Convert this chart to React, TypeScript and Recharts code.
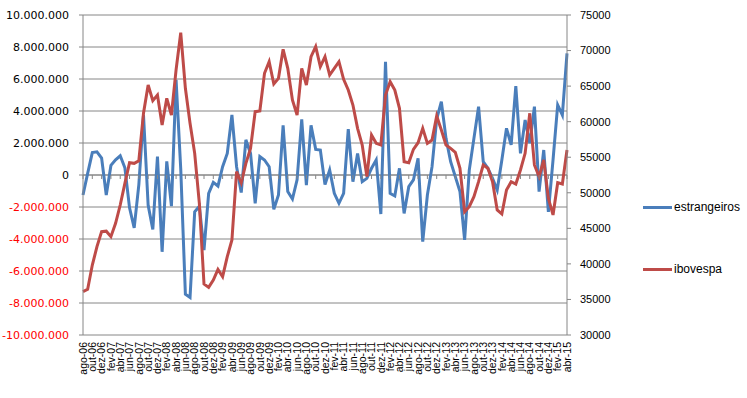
import { CartesianGrid, Line, LineChart, ReferenceLine, XAxis, YAxis } from "recharts";

const months = [
  "ago-06", "set-06", "out-06", "nov-06", "dez-06",
  "jan-07", "fev-07", "mar-07", "abr-07", "mai-07", "jun-07", "jul-07", "ago-07", "set-07", "out-07", "nov-07", "dez-07",
  "jan-08", "fev-08", "mar-08", "abr-08", "mai-08", "jun-08", "jul-08", "ago-08", "set-08", "out-08", "nov-08", "dez-08",
  "jan-09", "fev-09", "mar-09", "abr-09", "mai-09", "jun-09", "jul-09", "ago-09", "set-09", "out-09", "nov-09", "dez-09",
  "jan-10", "fev-10", "mar-10", "abr-10", "mai-10", "jun-10", "jul-10", "ago-10", "set-10", "out-10", "nov-10", "dez-10",
  "jan-11", "fev-11", "mar-11", "abr-11", "mai-11", "jun-11", "jul-11", "ago-11", "set-11", "out-11", "nov-11", "dez-11",
  "jan-12", "fev-12", "mar-12", "abr-12", "mai-12", "jun-12", "jul-12", "ago-12", "set-12", "out-12", "nov-12", "dez-12",
  "jan-13", "fev-13", "mar-13", "abr-13", "mai-13", "jun-13", "jul-13", "ago-13", "set-13", "out-13", "nov-13", "dez-13",
  "jan-14", "fev-14", "mar-14", "abr-14", "mai-14", "jun-14", "jul-14", "ago-14", "set-14", "out-14", "nov-14", "dez-14",
  "jan-15", "fev-15", "mar-15", "abr-15",
];

// fluxo de estrangeiros (eixo esquerdo)
const estrangeiros = [
  -1250000, 100000, 1400000, 1450000, 1060000, -1250000, 600000, 950000, 1200000, 450000,
  -2050000, -3300000, -600000, 3750000, -1900000, -3400000, 1150000, -4800000, 850000, -1950000,
  5950000, 400000, -7450000, -7650000, -2300000, -1950000, -4700000, -1150000, -460000, -690000,
  520000, 1350000, 3750000, 520000, -1100000, 2200000, 1350000, -1770000, 1150000, 940000,
  520000, -2150000, -1250000, 3100000, -1040000, -1500000, -300000, 3480000, -630000, 3100000,
  1600000, 1560000, -600000, 310000, -1150000, -1770000, -1150000, 2870000, -420000, 1350000,
  -420000, -210000, 420000, 940000, -2440000, 7080000, -1150000, -1310000, 420000, -2400000,
  -730000, -310000, 1040000, -4170000, -1250000, 520000, 3500000, 4580000, 2290000, 830000,
  -100000, -1040000, -4060000, 310000, 2290000, 4270000, 830000, 420000, -210000, -940000,
  940000, 2920000, 1880000, 5560000, 1350000, 3440000, 1980000, 4270000, -1040000, 1560000,
  -2300000, 940000, 4380000, 3750000, 7600000,
];

// ibovespa (eixo direito)
const ibovespa = [
  36090, 36420, 39840, 42420, 44530, 44600, 43830, 45700, 48280, 51330,
  54230, 54140, 54510, 61180, 65160, 62950, 63750, 59530, 63280, 60940,
  67270, 72510, 64690, 59770, 55550, 48520, 37170, 36700, 37730, 39230,
  38200, 41010, 43360, 52970, 51420, 54140, 56250, 61410, 61500, 66800,
  68440, 65300, 66090, 70180, 67500, 63050, 60940, 67500, 65160, 69140,
  70550, 67730, 69140, 66560, 67500, 68440, 65960, 64450, 62340, 59060,
  56720, 52270, 58120, 56950, 56720, 63750, 65620, 64450, 61880, 54370,
  54230, 56110, 57040, 59060, 56950, 57420, 60800, 58830, 56720, 56250,
  55690, 53440, 47340, 48050, 49450, 51560, 53900, 53440, 51560, 47580,
  47020, 50390, 51560, 51230, 53200, 55550, 61180, 53910, 52270, 54610,
  49220, 46880, 51420, 51230, 56020,
];

const leftTicks = [-10000000, -8000000, -6000000, -4000000, -2000000, 0, 2000000, 4000000, 6000000, 8000000, 10000000];
const rightTicks = [30000, 35000, 40000, 45000, 50000, 55000, 60000, 65000, 70000, 75000];

const series = [
  { key: "estrangeiros", color: "#4A7EBB" },
  { key: "ibovespa", color: "#BE4B48" },
];

const data = months.map((m, i) => ({ m, estrangeiros: estrangeiros[i], ibovespa: ibovespa[i] }));

const W = 747;
const H = 398;
const TOP = 15;
const PLOT_H = 320;
const ZERO_Y = TOP + PLOT_H / 2;
const AXIS = "#868686";
const FONT = "'Liberation Sans', Arial, sans-serif";
const WIDE = "'DejaVu Sans', Verdana, sans-serif";

const fmt = (v: number) => {
  const s = Math.abs(v).toString().replace(/\B(?=(\d{3})+(?!\d))/g, ".");
  return v < 0 ? "-" + s : s;
};

const LeftTick = (props: any) => {
  const { x, y, payload } = props;
  return (
    <text x={x} y={y} dy="0.35em" textAnchor="end" fontSize={11} fontFamily={WIDE}
      fill={payload.value < 0 ? "#FF0000" : "#000"}>
      {fmt(payload.value)}
    </text>
  );
};

const MonthTick = (props: any) => {
  const { x, y, payload } = props;
  const ty = y + 5;
  return (
    <g>
      <line x1={x} x2={x} y1={ZERO_Y} y2={ZERO_Y + 4} stroke={AXIS} />
      <text x={x} y={ty} transform={`rotate(-90 ${x} ${ty})`} textAnchor="end" dy="0.35em"
        fontSize={10.5} fontFamily={FONT} fill="#000">
        {payload.value}
      </text>
    </g>
  );
};

export default function App() {
  return (
    <div style={{ position: "absolute", left: 0, top: 0, width: W, height: H, background: "#fff" }}>
      <LineChart width={W} height={H} data={data} margin={{ top: TOP, right: 120, bottom: 8, left: 8 }}>
        <CartesianGrid yAxisId="left" vertical={false} stroke={AXIS} strokeWidth={1} />
        <XAxis dataKey="m" interval={1} tickLine={false} axisLine={false} height={55}
          tickSize={0} tick={<MonthTick />} />
        <YAxis yAxisId="left" domain={[-10000000, 10000000]} ticks={leftTicks} width={75}
          tickSize={4} tickMargin={10} stroke={AXIS} tick={<LeftTick />} />
        <YAxis yAxisId="right" orientation="right" domain={[30000, 75000]} ticks={rightTicks} width={60}
          tickSize={4} tickMargin={9} stroke={AXIS}
          tick={{ fill: "#000", fontSize: 11, fontFamily: FONT }} />
        <ReferenceLine yAxisId="left" y={0} stroke={AXIS} strokeWidth={1} />
        {series.map((s) => (
          <Line key={s.key} yAxisId={s.key === "ibovespa" ? "right" : "left"} type="linear" dataKey={s.key}
            stroke={s.color} strokeWidth={3} dot={false} isAnimationActive={false} />
        ))}
      </LineChart>
      <div style={{ position: "absolute", left: 643, top: 198, fontFamily: FONT, fontSize: 12 }}>
        {series.map((s, i) => (
          <div key={s.key} style={{ display: "flex", alignItems: "center", height: 18, marginBottom: i === 0 ? 44 : 0 }}>
            <span style={{ display: "inline-block", width: 29, height: 3, background: s.color, marginRight: 2 }} />
            <span>{s.key}</span>
          </div>
        ))}
      </div>
    </div>
  );
}
